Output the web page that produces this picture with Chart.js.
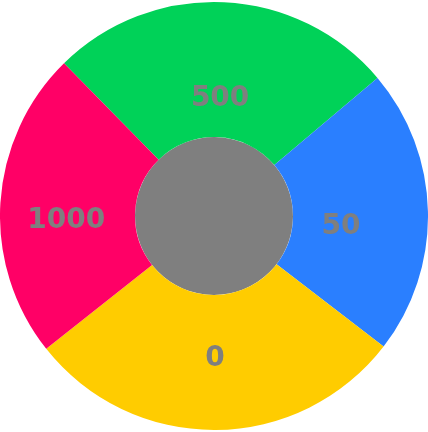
<!DOCTYPE html>
<html>
<head>
<meta charset="utf-8">
<script src="https://cdn.jsdelivr.net/npm/chart.js@4/dist/chart.umd.min.js"></script>
<style>
  html, body { margin: 0; padding: 0; background: #ffffff; }
  #wrap { width: 428px; height: 432px; position: relative; }
</style>
</head>
<body>
<div id="wrap"><canvas id="c"></canvas></div>
<script>
// Data
const categories = ['500', '50', '0', '1000'];
const sliceValues = [26.2, 21.6, 28.9, 23.3];
const sliceColors = ['#00d258', '#2a7fff', '#ffcc00', '#ff0066'];
const centerValues = [1];
const centerColor = '#7f7f7f';

const sliceLabels = {
  id: 'sliceLabels',
  afterDatasetsDraw(chart, args, opts) {
    const meta = chart.getDatasetMeta(0);
    const ctx = chart.ctx;
    ctx.save();
    ctx.font = 'bold 28px "DejaVu Sans"';
    ctx.fillStyle = opts.color;
    ctx.textAlign = 'center';
    ctx.textBaseline = 'top';
    meta.data.forEach((arc, i) => {
      const p = arc.getProps(['x', 'y', 'startAngle', 'endAngle', 'innerRadius', 'outerRadius'], true);
      const mid = (p.startAngle + p.endAngle) / 2;
      const f = opts.fractions[i];
      const r = p.innerRadius + f * (p.outerRadius - p.innerRadius);
      ctx.fillText(chart.data.labels[i], p.x + Math.cos(mid) * r, p.y + Math.sin(mid) * r);
    });
    ctx.restore();
  }
};

new Chart(document.getElementById('c'), {
  type: 'pie',
  data: {
    labels: categories,
    datasets: [
      { data: sliceValues, backgroundColor: sliceColors, borderWidth: 0, weight: 135 },
      { data: centerValues, backgroundColor: [centerColor], borderWidth: 0, weight: 79 }
    ]
  },
  options: {
    responsive: true,
    maintainAspectRatio: false,
    animation: false,
    rotation: -44.5,
    layout: { padding: 0 },
    events: [],
    plugins: {
      legend: { display: false },
      tooltip: { enabled: false },
      sliceLabels: { color: '#7f7f7f', fractions: [0.389, 0.356, 0.368, 0.511] }
    }
  },
  plugins: [sliceLabels]
});
</script>
</body>
</html>
